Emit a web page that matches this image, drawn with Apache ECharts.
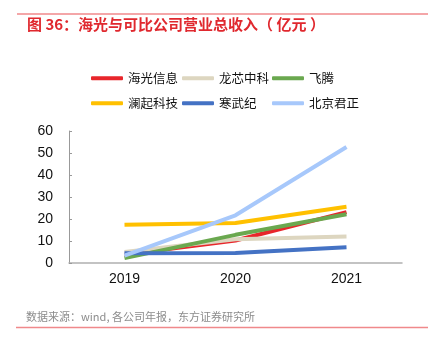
<!DOCTYPE html>
<html><head><meta charset="utf-8">
<script src="https://cdn.jsdelivr.net/npm/echarts@6/dist/echarts.min.js"></script>
<style>html,body{margin:0;padding:0;background:#fff;}#c{width:433px;height:357px;}</style>
</head><body><div id="c"></div>
<script>
const categories = ['2019', '2020', '2021'];
const seriesNames = ['海光信息', '龙芯中科', '飞腾', '澜起科技', '寒武纪', '北京君正'];
const haiguang = [3.8, 10.2, 23.1];
const loongson = [5.0, 10.8, 12.0];
const phytium = [2.2, 12.8, 22.2];
const montage = [17.4, 18.2, 25.6];
const cambricon = [4.4, 4.6, 7.2];
const ingenic = [3.4, 21.7, 52.7];
const yTicks = [0, 10, 20, 30, 40, 50, 60];
const titleText = '图 36：海光与可比公司营业总收入（ 亿元 ）';
const sourceText = '数据来源：wind, 各公司年报，东方证券研究所';

const values = [haiguang, loongson, phytium, montage, cambricon, ingenic];
const colors = ['#e8262b', '#ddd6c0', '#6aa84f', '#ffc000', '#4472c4', '#a7c8fb'];
const legendPos = [[91, 72], [182, 72], [272, 72], [91, 97], [182, 97], [272, 97]];
const font = '"Noto Sans CJK SC", "Liberation Sans", sans-serif';
const numFont = '"Liberation Sans", Arial, sans-serif';

const chart = echarts.init(document.getElementById('c'));
chart.setOption({
  animation: false,
  backgroundColor: '#fff',
  textStyle: { fontFamily: font },
  title: {
    text: titleText, left: 22, top: 12, padding: [5, 5],
    textStyle: { color: '#e0282e', fontSize: 15, fontWeight: 'bold', fontFamily: font }
  },
  graphic: [
    { type: 'line', shape: { x1: 17, y1: 14, x2: 428, y2: 14 }, style: { stroke: '#f0898b', lineWidth: 1.5 } },
    { type: 'line', shape: { x1: 16, y1: 327.5, x2: 428, y2: 327.5 }, style: { stroke: '#f0898b', lineWidth: 1.5 } },
    { type: 'text', left: 26, top: 311, style: { text: sourceText, fill: '#8c8c8c', fontSize: 11, fontFamily: font } }
  ],
  legend: seriesNames.map((n, i) => ({
    data: [n], left: legendPos[i][0], top: legendPos[i][1], padding: 0,
    icon: 'roundRect', itemWidth: 32, itemHeight: 4,
    textStyle: { fontSize: 12.5, color: '#111', fontFamily: font }
  })),
  grid: { left: 69, right: 31, top: 131, bottom: 94, containLabel: false },
  xAxis: {
    type: 'category', data: categories, boundaryGap: true,
    axisLine: { lineStyle: { color: '#b0b0b0', width: 1.5 } },
    axisTick: { inside: true, length: 4, lineStyle: { color: '#888' } },
    axisLabel: { color: '#111', fontSize: 14, margin: 9, fontFamily: numFont }
  },
  yAxis: {
    type: 'value', min: 0, max: 60, interval: 10,
    axisLine: { show: true, lineStyle: { color: '#999' } },
    axisTick: { show: true, inside: true, length: 3, lineStyle: { color: '#999' } },
    splitLine: { show: false },
    axisLabel: { color: '#111', fontSize: 14, margin: 16, fontFamily: numFont,
      formatter: v => yTicks.includes(v) ? String(v) : '' }
  },
  series: seriesNames.map((n, i) => ({
    name: n, type: 'line', data: values[i], showSymbol: false, symbol: 'none',
    lineStyle: { width: 4, color: colors[i] }, itemStyle: { color: colors[i] }
  }))
});
</script></body></html>
